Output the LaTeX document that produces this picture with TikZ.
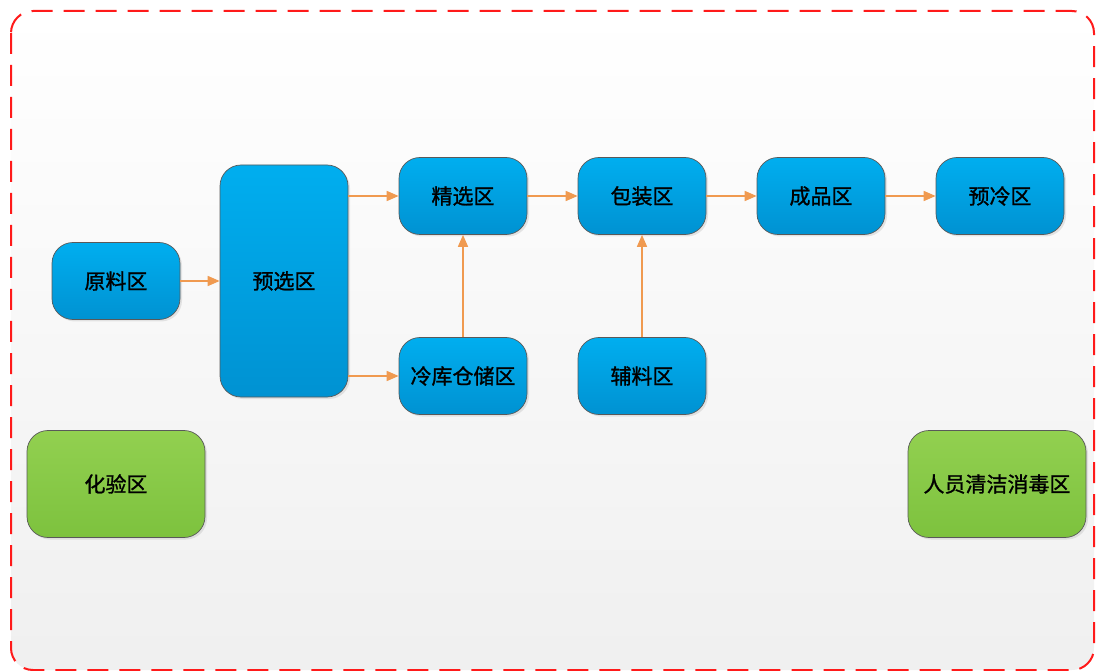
\documentclass[tikz,border=0pt]{standalone}
\usepackage{fontspec}
\newfontfamily\cjk[FakeBold=1.2]{Noto Sans CJK SC}
\usepackage{tikz}
\usetikzlibrary{arrows.meta,shadows}

\definecolor{zoneblue}{HTML}{00AEEF}
\definecolor{zonebluedark}{HTML}{0092D2}
\definecolor{zonegreen}{HTML}{92D050}
\definecolor{zonegreendark}{HTML}{7DC23E}
\definecolor{flowline}{HTML}{F09A50}
\definecolor{frameline}{HTML}{FF1A1A}

\begin{document}
\begin{tikzpicture}
        [%%%%%%%%%%%%%%%%%%%%%%%%%%%%%%
        x=1pt,y=-1pt,
        zone/.style={rectangle,rounded corners=21pt,draw=black!65,line width=0.7pt,
          minimum width=128pt,minimum height=77pt,inner sep=0pt,
          top color=zoneblue,bottom color=zonebluedark,
          drop shadow={opacity=0.18,shadow xshift=2pt,shadow yshift=-2pt},
          font=\cjk\fontsize{21}{25}\selectfont},
        side/.style={zone,minimum width=178pt,minimum height=107pt,
          top color=zonegreen,bottom color=zonegreendark},
        flow/.style={draw=flowline,line width=1.6pt,-{Triangle[length=12pt,width=10pt]}},
        ]%%%%%%%%%%%%%%%%%%%%%%%%%%%%%%
        \useasboundingbox (0,0) rectangle (1096,671);
        % Background and dashed frame
        \shade[top color=white,bottom color=black!6,rounded corners=22pt]
          (11,11) rectangle (1094,670);
        \draw[frameline,line width=2pt,dash pattern=on 21pt off 11pt,rounded corners=22pt]
          (11,11) rectangle (1094,670);
        % Zones
        \node[zone] (yuanliao) at (116,281) {原料区};
        \node[zone,minimum height=232pt] (yuxuan) at (284,281) {预选区};
        \node[zone] (jingxuan) at (463,196) {精选区};
        \node[zone] (lengku) at (463,376) {冷库仓储区};
        \node[zone] (baozhuang) at (642,196) {包装区};
        \node[zone] (fuliao) at (642,376) {辅料区};
        \node[zone] (chengpin) at (821,196) {成品区};
        \node[zone] (yuleng) at (1000,196) {预冷区};
        \node[side] (huayan) at (116,484) {化验区};
        \node[side] (qingjie) at (997,484) {人员清洁消毒区};
        % Flow
        \draw[flow] (yuanliao) -- (yuxuan);
        \draw[flow] (yuxuan.east |- jingxuan.west) -- (jingxuan.west);
        \draw[flow] (yuxuan.east |- lengku.west) -- (lengku.west);
        \draw[flow] (lengku) -- (jingxuan);
        \draw[flow] (jingxuan) -- (baozhuang);
        \draw[flow] (fuliao) -- (baozhuang);
        \draw[flow] (baozhuang) -- (chengpin);
        \draw[flow] (chengpin) -- (yuleng);
      \end{tikzpicture}
\end{document}
